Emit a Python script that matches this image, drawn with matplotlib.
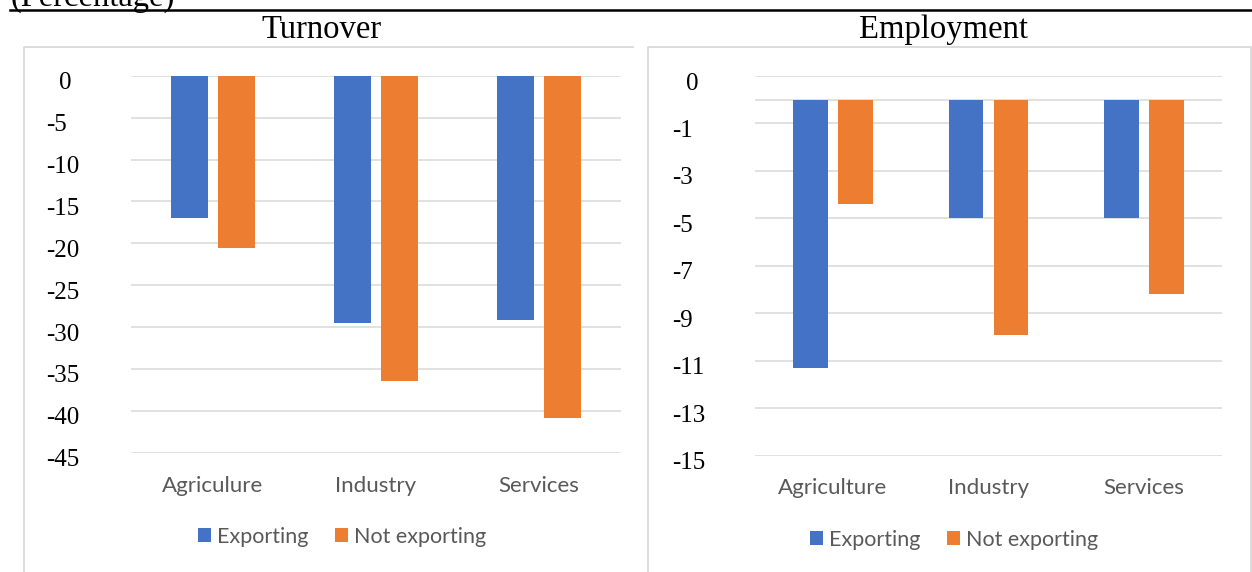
import matplotlib
matplotlib.use("AGG")
import matplotlib.pyplot as plt
import numpy as np
from matplotlib.lines import Line2D
from matplotlib.transforms import ScaledTranslation

# data
turnover_categories = ['Agriculure', 'Industry', 'Services']
turnover_exporting = [-17.0, -29.5, -29.2]
turnover_not_exporting = [-20.6, -36.4, -40.8]
turnover_ticks = [0, -5, -10, -15, -20, -25, -30, -35, -40, -45]
turnover_ticklabels = ['0', '-5', '-10', '-15', '-20', '-25', '-30', '-35', '-40', '-45']

employment_categories = ['Agriculture', 'Industry', 'Services']
employment_exporting = [-11.3, -5.0, -5.0]
employment_not_exporting = [-4.4, -9.9, -8.2]
employment_ticks = [1, 0, -1, -3, -5, -7, -9, -11, -13, -15]
employment_ticklabels = ['0', '', '-1', '-3', '-5', '-7', '-9', '-11', '-13', '-15']

series_names = ['Exporting', 'Not exporting']

BLUE = '#4472C4'
ORANGE = '#ED7D31'
GRID = '#D9D9D9'
TEXT_GRAY = '#595959'
SERIF = ['Liberation Serif', 'DejaVu Serif']
SANS = ['Lato', 'DejaVu Sans']

W, H = 1252, 572
fig = plt.figure(figsize=(W / 100, H / 100), dpi=100)


def fx(px):
    return px / W


def fy(px):
    return 1 - px / H


def draw_panel(rect, cats, exp, notexp, ticks, ticklabels, ylim, pad_pt, zero_shift_px,
               width, legend_xy):
    ax = fig.add_axes(rect)
    x = np.arange(len(cats))
    off = 0.144
    ax.bar(x - off, exp, width, color=BLUE, label=series_names[0], zorder=3)
    ax.bar(x + off, notexp, width, color=ORANGE, label=series_names[1], zorder=3)
    ax.set_xlim(-0.5, len(cats) - 0.5)
    ax.set_ylim(*ylim)
    ax.set_yticks(ticks, ticklabels)
    ax.set_xticks(x, cats)
    ax.grid(axis='y', color=GRID, linewidth=1.1, zorder=0)
    for s in ax.spines.values():
        s.set_visible(False)
    ax.tick_params(axis='y', length=0, pad=pad_pt, labelsize=18)
    ax.tick_params(axis='x', length=0, pad=16.5, labelsize=16, labelcolor=TEXT_GRAY)
    down = ScaledTranslation(0, -5 / 100, fig.dpi_scale_trans)
    for lab in ax.get_yticklabels():
        lab.set_family(SERIF)
        lab.set_ha('left')
        if lab.get_text() == '0':
            lab.set_transform(lab.get_transform() + down +
                              ScaledTranslation(zero_shift_px / 100, 0, fig.dpi_scale_trans))
        else:
            lab.set_transform(lab.get_transform() + down)
    for lab in ax.get_xticklabels():
        lab.set_family(SANS)
    ax.legend(loc='center', bbox_to_anchor=legend_xy, bbox_transform=fig.transFigure,
              ncol=2, frameon=False, prop={'family': SANS, 'size': 15.5},
              labelcolor=TEXT_GRAY, handlelength=0.62, handleheight=0.62,
              handletextpad=0.3, columnspacing=1.2, borderpad=0)
    return ax


draw_panel([fx(131), fy(452.8), fx(620.5) - fx(131), fy(75.7) - fy(452.8)],
           turnover_categories, turnover_exporting, turnover_not_exporting,
           turnover_ticks, turnover_ticklabels, (-45, 0), 61.2, 13, 0.227,
           (fx(342), fy(537)))

draw_panel([fx(755), fy(455.5), fx(1222) - fx(755), fy(76) - fy(455.5)],
           employment_categories, employment_exporting, employment_not_exporting,
           employment_ticks, employment_ticklabels, (-15, 1), 59.8, 14, 0.223,
           (fx(954), fy(540)))

# titles and header
fig.text(fx(322), fy(30), 'Turnover', ha='center', va='center', family=SERIF, fontsize=23.5)
fig.text(fx(944), fy(30), 'Employment', ha='center', va='center', family=SERIF, fontsize=23.5)
fig.text(fx(11), fy(6), '(Percentage)', ha='left', va='baseline', family=SERIF, fontsize=23.5)

# rule under the header and panel borders
fig.add_artist(Line2D([fx(10), 1], [fy(10), fy(10)], color='black', linewidth=1.8))
fig.add_artist(Line2D([fx(24), fx(24), fx(633)], [0, fy(47), fy(47)], color=GRID, linewidth=1.3))
fig.add_artist(Line2D([fx(648), fx(648), fx(1251), fx(1251)], [0, fy(47), fy(47), 0],
                      color=GRID, linewidth=1.3))

fig.savefig('out.png', dpi=100)
